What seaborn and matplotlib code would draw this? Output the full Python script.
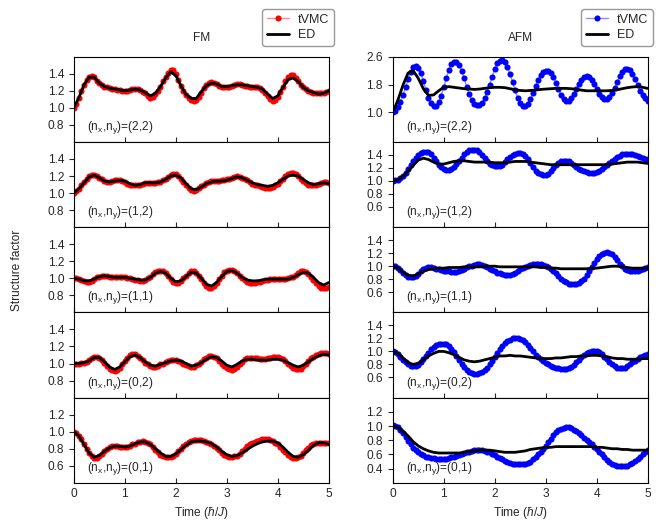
import numpy as np
import matplotlib
matplotlib.use("Agg")
import matplotlib.pyplot as plt
import seaborn as sns

# time grids: tVMC sampled every 0.05, ED every 0.1 (in units of hbar/J)
t_vmc = np.round(np.arange(101) * 0.05, 2)
t_ed = np.round(np.arange(51) * 0.1, 2)

panel_labels = ["(2,2)", "(1,2)", "(1,1)", "(0,2)", "(0,1)"]

# ---------------- FM ----------------
fm22_tvmc = [1.00, 1.05, 1.12, 1.20, 1.27, 1.33, 1.36, 1.37, 1.36, 1.32,
             1.29, 1.27, 1.25, 1.24, 1.23, 1.22, 1.22, 1.21, 1.21, 1.20,
             1.20, 1.20, 1.21, 1.22, 1.22, 1.22, 1.21, 1.19, 1.17, 1.14,
             1.12, 1.13, 1.16, 1.20, 1.25, 1.31, 1.36, 1.41, 1.44, 1.44,
             1.40, 1.33, 1.26, 1.20, 1.15, 1.11, 1.09, 1.08, 1.09, 1.13,
             1.18, 1.23, 1.27, 1.29, 1.30, 1.29, 1.28, 1.26, 1.25, 1.24,
             1.24, 1.25, 1.26, 1.27, 1.28, 1.28, 1.27, 1.26, 1.26, 1.25,
             1.25, 1.24, 1.24, 1.23, 1.21, 1.18, 1.14, 1.10, 1.08, 1.09,
             1.13, 1.19, 1.25, 1.31, 1.36, 1.38, 1.38, 1.35, 1.31, 1.27,
             1.24, 1.22, 1.20, 1.19, 1.18, 1.18, 1.18, 1.18, 1.18, 1.19,
             1.20]
fm22_ed = [1.00, 1.12, 1.27, 1.36, 1.36, 1.29, 1.25, 1.23, 1.22, 1.21,
           1.20, 1.21, 1.22, 1.21, 1.18, 1.14, 1.17, 1.25, 1.35, 1.42,
           1.38, 1.26, 1.16, 1.11, 1.11, 1.19, 1.26, 1.29, 1.28, 1.25,
           1.25, 1.26, 1.27, 1.27, 1.26, 1.25, 1.24, 1.22, 1.16, 1.11,
           1.14, 1.24, 1.33, 1.35, 1.31, 1.24, 1.20, 1.18, 1.16, 1.17,
           1.20]

fm12_tvmc = [1.00, 1.02, 1.05, 1.09, 1.13, 1.17, 1.20, 1.21, 1.21, 1.20,
             1.18, 1.16, 1.14, 1.13, 1.13, 1.14, 1.15, 1.15, 1.15, 1.14,
             1.13, 1.11, 1.10, 1.09, 1.09, 1.09, 1.10, 1.11, 1.12, 1.12,
             1.12, 1.12, 1.12, 1.13, 1.13, 1.15, 1.17, 1.19, 1.21, 1.22,
             1.22, 1.20, 1.17, 1.13, 1.09, 1.06, 1.04, 1.03, 1.04, 1.06,
             1.08, 1.10, 1.12, 1.13, 1.14, 1.14, 1.14, 1.14, 1.15, 1.15,
             1.16, 1.17, 1.18, 1.19, 1.20, 1.19, 1.18, 1.16, 1.15, 1.13,
             1.11, 1.10, 1.09, 1.08, 1.07, 1.06, 1.06, 1.06, 1.07, 1.09,
             1.11, 1.14, 1.17, 1.20, 1.22, 1.23, 1.23, 1.22, 1.20, 1.17,
             1.14, 1.12, 1.10, 1.09, 1.09, 1.10, 1.11, 1.12, 1.13, 1.13,
             1.12]
fm12_ed = [1.00, 1.05, 1.12, 1.19, 1.21, 1.18, 1.14, 1.13, 1.14, 1.15,
           1.14, 1.11, 1.09, 1.10, 1.12, 1.12, 1.12, 1.13, 1.16, 1.20,
           1.21, 1.18, 1.11, 1.05, 1.04, 1.07, 1.11, 1.13, 1.14, 1.14,
           1.15, 1.17, 1.19, 1.18, 1.15, 1.12, 1.10, 1.09, 1.08, 1.09,
           1.12, 1.16, 1.20, 1.21, 1.20, 1.16, 1.12, 1.10, 1.11, 1.12,
           1.11]

fm11_tvmc = [1.00, 1.00, 0.99, 0.98, 0.97, 0.96, 0.96, 0.97, 0.99, 1.01,
             1.02, 1.03, 1.03, 1.03, 1.02, 1.02, 1.01, 1.01, 1.01, 1.01,
             1.01, 1.00, 1.00, 0.99, 0.98, 0.98, 0.97, 0.97, 0.98, 1.00,
             1.02, 1.05, 1.07, 1.09, 1.09, 1.08, 1.06, 1.03, 0.99, 0.96,
             0.95, 0.95, 0.97, 1.00, 1.03, 1.06, 1.08, 1.08, 1.06, 1.03,
             0.99, 0.95, 0.91, 0.89, 0.89, 0.91, 0.95, 0.99, 1.03, 1.07,
             1.09, 1.10, 1.10, 1.08, 1.06, 1.03, 1.00, 0.98, 0.96, 0.95,
             0.95, 0.95, 0.96, 0.96, 0.97, 0.98, 0.98, 0.99, 0.99, 0.99,
             0.99, 0.99, 0.99, 0.99, 1.00, 1.01, 1.02, 1.04, 1.06, 1.08,
             1.08, 1.07, 1.05, 1.02, 0.98, 0.94, 0.91, 0.89, 0.89, 0.89,
             0.90]
fm11_ed = [1.00, 0.99, 0.97, 0.97, 0.99, 1.02, 1.03, 1.02, 1.01, 1.01,
           1.01, 1.00, 0.99, 0.98, 0.98, 1.01, 1.06, 1.08, 1.06, 1.00,
           0.96, 0.97, 1.02, 1.07, 1.06, 1.00, 0.93, 0.91, 0.95, 1.02,
           1.08, 1.09, 1.06, 1.01, 0.98, 0.97, 0.97, 0.98, 0.99, 0.99,
           0.99, 0.99, 0.99, 1.01, 1.04, 1.07, 1.06, 1.01, 0.95, 0.92,
           0.95]

fm02_tvmc = [1.00, 1.00, 1.00, 1.01, 1.01, 1.02, 1.04, 1.06, 1.08, 1.08,
             1.07, 1.04, 1.01, 0.97, 0.94, 0.92, 0.91, 0.92, 0.95, 0.99,
             1.03, 1.07, 1.10, 1.11, 1.11, 1.09, 1.07, 1.04, 1.01, 0.99,
             0.97, 0.96, 0.96, 0.97, 0.99, 1.00, 1.02, 1.03, 1.04, 1.04,
             1.04, 1.03, 1.02, 1.00, 0.98, 0.97, 0.96, 0.96, 0.98, 1.00,
             1.02, 1.05, 1.07, 1.09, 1.09, 1.08, 1.06, 1.03, 1.00, 0.97,
             0.95, 0.93, 0.92, 0.93, 0.96, 0.99, 1.02, 1.05, 1.06, 1.07,
             1.07, 1.07, 1.06, 1.05, 1.05, 1.05, 1.06, 1.07, 1.08, 1.08,
             1.08, 1.07, 1.05, 1.03, 1.00, 0.97, 0.95, 0.93, 0.93, 0.94,
             0.97, 1.00, 1.03, 1.06, 1.08, 1.10, 1.11, 1.12, 1.12, 1.12,
             1.11]
fm02_ed = [1.00, 1.00, 1.01, 1.03, 1.07, 1.07, 1.02, 0.96, 0.93, 0.96,
           1.02, 1.08, 1.10, 1.07, 1.02, 0.98, 0.97, 0.99, 1.01, 1.03,
           1.04, 1.03, 1.00, 0.97, 0.98, 1.01, 1.05, 1.08, 1.07, 1.03,
           0.98, 0.96, 0.99, 1.03, 1.05, 1.05, 1.04, 1.04, 1.04, 1.05,
           1.05, 1.04, 1.01, 0.98, 0.96, 0.98, 1.02, 1.06, 1.09, 1.11,
           1.10]

fm01_tvmc = [1.00, 0.98, 0.95, 0.91, 0.85, 0.80, 0.75, 0.71, 0.69, 0.69,
             0.71, 0.74, 0.77, 0.80, 0.82, 0.83, 0.83, 0.83, 0.82, 0.82,
             0.82, 0.82, 0.83, 0.85, 0.86, 0.88, 0.88, 0.89, 0.88, 0.87,
             0.85, 0.82, 0.79, 0.76, 0.73, 0.71, 0.70, 0.70, 0.70, 0.72,
             0.74, 0.77, 0.80, 0.83, 0.86, 0.88, 0.89, 0.90, 0.90, 0.90,
             0.90, 0.89, 0.88, 0.87, 0.85, 0.83, 0.81, 0.78, 0.75, 0.73,
             0.71, 0.70, 0.70, 0.71, 0.72, 0.74, 0.77, 0.80, 0.83, 0.85,
             0.87, 0.88, 0.89, 0.90, 0.91, 0.91, 0.91, 0.90, 0.89, 0.87,
             0.85, 0.82, 0.79, 0.76, 0.73, 0.70, 0.69, 0.69, 0.70, 0.72,
             0.75, 0.78, 0.81, 0.84, 0.86, 0.87, 0.87, 0.87, 0.87, 0.87,
             0.87]
fm01_ed = [1.00, 0.95, 0.85, 0.75, 0.70, 0.72, 0.77, 0.81, 0.83, 0.83,
           0.82, 0.83, 0.86, 0.88, 0.88, 0.85, 0.80, 0.75, 0.71, 0.71,
           0.74, 0.79, 0.84, 0.88, 0.89, 0.89, 0.88, 0.86, 0.82, 0.77,
           0.73, 0.71, 0.72, 0.75, 0.79, 0.83, 0.86, 0.88, 0.89, 0.89,
           0.87, 0.82, 0.76, 0.71, 0.70, 0.73, 0.78, 0.84, 0.87, 0.87,
           0.85]

# ---------------- AFM ----------------
afm22_tvmc = [1.00, 1.04, 1.14, 1.30, 1.50, 1.72, 1.95, 2.15, 2.30, 2.34,
              2.28, 2.12, 1.90, 1.65, 1.42, 1.26, 1.18, 1.19, 1.30, 1.48,
              1.72, 1.98, 2.22, 2.39, 2.46, 2.45, 2.36, 2.20, 1.98, 1.74,
              1.52, 1.35, 1.25, 1.21, 1.21, 1.27, 1.40, 1.58, 1.80, 2.03,
              2.25, 2.41, 2.49, 2.50, 2.44, 2.30, 2.10, 1.87, 1.63, 1.42,
              1.27, 1.19, 1.18, 1.24, 1.37, 1.55, 1.75, 1.94, 2.08, 2.17,
              2.20, 2.20, 2.14, 2.02, 1.85, 1.67, 1.50, 1.39, 1.33, 1.34,
              1.40, 1.52, 1.66, 1.81, 1.93, 2.01, 2.04, 2.02, 1.94, 1.82,
              1.68, 1.54, 1.43, 1.37, 1.37, 1.43, 1.55, 1.70, 1.87, 2.04,
              2.17, 2.25, 2.26, 2.21, 2.10, 1.95, 1.78, 1.62, 1.49, 1.40,
              1.32]
afm22_ed = [1.00, 1.35, 1.78, 2.13, 2.20, 1.98, 1.68, 1.49, 1.50, 1.62,
            1.72, 1.74, 1.72, 1.70, 1.68, 1.67, 1.66, 1.67, 1.69, 1.71,
            1.72, 1.72, 1.71, 1.68, 1.65, 1.63, 1.62, 1.63, 1.64, 1.66,
            1.67, 1.68, 1.69, 1.69, 1.69, 1.68, 1.66, 1.64, 1.62, 1.62,
            1.62, 1.62, 1.62, 1.63, 1.65, 1.68, 1.71, 1.73, 1.74, 1.72,
            1.69]

afm12_tvmc = [1.00, 1.01, 1.02, 1.05, 1.08, 1.13, 1.19, 1.25, 1.31, 1.36,
              1.40, 1.43, 1.45, 1.45, 1.44, 1.41, 1.36, 1.30, 1.25, 1.21,
              1.18, 1.17, 1.17, 1.18, 1.21, 1.26, 1.31, 1.36, 1.41, 1.45,
              1.47, 1.48, 1.48, 1.47, 1.44, 1.40, 1.35, 1.30, 1.26, 1.24,
              1.23, 1.23, 1.23, 1.25, 1.29, 1.33, 1.37, 1.40, 1.42, 1.43,
              1.43, 1.42, 1.39, 1.34, 1.28, 1.22, 1.16, 1.12, 1.10, 1.09,
              1.09, 1.11, 1.15, 1.20, 1.25, 1.28, 1.30, 1.31, 1.31, 1.30,
              1.28, 1.25, 1.22, 1.19, 1.17, 1.15, 1.14, 1.13, 1.13, 1.13,
              1.14, 1.16, 1.19, 1.22, 1.25, 1.28, 1.31, 1.34, 1.37, 1.39,
              1.41, 1.42, 1.42, 1.42, 1.41, 1.40, 1.39, 1.37, 1.35, 1.34,
              1.33]
afm12_ed = [1.00, 1.02, 1.07, 1.15, 1.24, 1.32, 1.35, 1.33, 1.29, 1.26,
            1.26, 1.28, 1.30, 1.31, 1.31, 1.30, 1.29, 1.29, 1.29, 1.29,
            1.28, 1.28, 1.28, 1.29, 1.30, 1.30, 1.30, 1.29, 1.28, 1.27,
            1.26, 1.25, 1.25, 1.25, 1.25, 1.25, 1.25, 1.25, 1.25, 1.25,
            1.25, 1.25, 1.25, 1.26, 1.27, 1.28, 1.29, 1.29, 1.29, 1.28,
            1.27]

afm11_tvmc = [1.01, 1.00, 0.97, 0.94, 0.90, 0.86, 0.84, 0.83, 0.83, 0.85,
              0.88, 0.92, 0.95, 0.97, 0.98, 0.98, 0.97, 0.96, 0.95, 0.94,
              0.93, 0.92, 0.92, 0.91, 0.91, 0.91, 0.92, 0.94, 0.96, 0.98,
              1.00, 1.01, 1.02, 1.03, 1.03, 1.02, 1.00, 0.98, 0.96, 0.94,
              0.92, 0.90, 0.89, 0.88, 0.87, 0.87, 0.87, 0.88, 0.90, 0.92,
              0.95, 0.97, 0.99, 1.01, 1.02, 1.03, 1.03, 1.03, 1.03, 1.02,
              1.01, 0.99, 0.96, 0.93, 0.89, 0.85, 0.81, 0.78, 0.75, 0.73,
              0.72, 0.72, 0.72, 0.74, 0.77, 0.81, 0.87, 0.93, 0.99, 1.05,
              1.11, 1.16, 1.19, 1.21, 1.22, 1.21, 1.18, 1.14, 1.09, 1.04,
              1.00, 0.96, 0.94, 0.92, 0.92, 0.92, 0.93, 0.94, 0.95, 0.97,
              0.98]
afm11_ed = [1.00, 0.97, 0.91, 0.86, 0.85, 0.88, 0.92, 0.95, 0.96, 0.97,
            0.97, 0.98, 0.98, 0.98, 0.99, 0.99, 0.99, 0.99, 1.00, 1.00,
            1.00, 0.99, 0.99, 0.99, 0.99, 0.99, 0.99, 0.99, 0.99, 0.98,
            0.98, 0.97, 0.97, 0.96, 0.96, 0.96, 0.96, 0.96, 0.96, 0.97,
            0.97, 0.98, 0.99, 1.00, 1.00, 0.99, 0.98, 0.97, 0.97, 0.97,
            0.97]

afm02_tvmc = [1.01, 0.99, 0.96, 0.92, 0.87, 0.83, 0.80, 0.78, 0.77, 0.77,
              0.79, 0.83, 0.88, 0.93, 0.98, 1.03, 1.07, 1.10, 1.12, 1.12,
              1.12, 1.11, 1.08, 1.04, 0.99, 0.93, 0.87, 0.81, 0.76, 0.72,
              0.69, 0.67, 0.66, 0.66, 0.67, 0.68, 0.71, 0.75, 0.80, 0.86,
              0.92, 0.98, 1.04, 1.09, 1.13, 1.16, 1.18, 1.20, 1.20, 1.20,
              1.19, 1.17, 1.14, 1.10, 1.05, 1.00, 0.95, 0.91, 0.88, 0.85,
              0.82, 0.80, 0.78, 0.76, 0.75, 0.74, 0.73, 0.73, 0.73, 0.74,
              0.76, 0.79, 0.83, 0.87, 0.91, 0.94, 0.97, 0.99, 1.00, 1.00,
              1.00, 0.99, 0.96, 0.92, 0.88, 0.84, 0.80, 0.77, 0.75, 0.74,
              0.74, 0.75, 0.77, 0.80, 0.83, 0.86, 0.88, 0.91, 0.93, 0.95,
              0.96]
afm02_ed = [1.00, 0.97, 0.90, 0.83, 0.80, 0.82, 0.87, 0.93, 0.97, 1.00,
            1.00, 0.98, 0.95, 0.91, 0.87, 0.85, 0.84, 0.85, 0.87, 0.89,
            0.91, 0.93, 0.93, 0.94, 0.93, 0.93, 0.92, 0.91, 0.90, 0.89,
            0.89, 0.89, 0.90, 0.90, 0.91, 0.92, 0.92, 0.93, 0.93, 0.94,
            0.94, 0.93, 0.92, 0.90, 0.89, 0.89, 0.88, 0.88, 0.88, 0.89,
            0.89]

afm01_tvmc = [1.01, 1.00, 0.98, 0.95, 0.90, 0.85, 0.79, 0.74, 0.69, 0.66,
              0.63, 0.61, 0.59, 0.57, 0.56, 0.55, 0.55, 0.54, 0.54, 0.54,
              0.54, 0.54, 0.55, 0.56, 0.57, 0.58, 0.59, 0.61, 0.62, 0.63,
              0.64, 0.65, 0.66, 0.66, 0.66, 0.66, 0.65, 0.64, 0.63, 0.61,
              0.59, 0.57, 0.55, 0.53, 0.51, 0.49, 0.48, 0.47, 0.46, 0.46,
              0.46, 0.46, 0.47, 0.48, 0.50, 0.53, 0.56, 0.60, 0.64, 0.68,
              0.72, 0.77, 0.82, 0.87, 0.91, 0.94, 0.96, 0.97, 0.98, 0.98,
              0.97, 0.95, 0.93, 0.90, 0.87, 0.83, 0.80, 0.77, 0.74, 0.71,
              0.68, 0.64, 0.60, 0.56, 0.52, 0.49, 0.47, 0.45, 0.44, 0.43,
              0.43, 0.43, 0.44, 0.46, 0.48, 0.51, 0.54, 0.57, 0.60, 0.63,
              0.66]
afm01_ed = [1.00, 0.98, 0.93, 0.86, 0.78, 0.72, 0.68, 0.65, 0.63, 0.62,
            0.62, 0.62, 0.62, 0.62, 0.63, 0.64, 0.65, 0.66, 0.66, 0.66,
            0.65, 0.64, 0.63, 0.63, 0.63, 0.64, 0.65, 0.67, 0.68, 0.69,
            0.70, 0.70, 0.71, 0.71, 0.71, 0.71, 0.71, 0.71, 0.71, 0.71,
            0.70, 0.70, 0.69, 0.68, 0.68, 0.67, 0.67, 0.66, 0.66, 0.66,
            0.66]

fm_tvmc = [fm22_tvmc, fm12_tvmc, fm11_tvmc, fm02_tvmc, fm01_tvmc]
fm_ed = [fm22_ed, fm12_ed, fm11_ed, fm02_ed, fm01_ed]
afm_tvmc = [afm22_tvmc, afm12_tvmc, afm11_tvmc, afm02_tvmc, afm01_tvmc]
afm_ed = [afm22_ed, afm12_ed, afm11_ed, afm02_ed, afm01_ed]

# axis ranges / ticks per panel
fm_ylims = [(0.6, 1.6)] * 4 + [(0.4, 1.4)]
fm_yticks = [[0.8, 1.0, 1.2, 1.4]] * 4 + [[0.6, 0.8, 1.0, 1.2]]
afm_ylims = [(0.15, 2.6)] + [(0.29, 1.6)] * 3 + [(0.2, 1.4)]
afm_yticks = [[1.0, 1.8, 2.6]] + [[0.6, 0.8, 1.0, 1.2, 1.4]] * 3 + [[0.4, 0.6, 0.8, 1.0, 1.2]]

# --- style ---
sns.set_style("ticks")
plt.rcParams["font.family"] = ["Liberation Sans", "DejaVu Sans"]
plt.rcParams["mathtext.fontset"] = "custom"
plt.rcParams["mathtext.rm"] = "Liberation Sans"
plt.rcParams["mathtext.it"] = "Liberation Sans:italic"
plt.rcParams["mathtext.default"] = "regular"
plt.rcParams["axes.edgecolor"] = "black"
plt.rcParams["axes.linewidth"] = 0.8

fs = 8.6

fig, axes = plt.subplots(5, 2, figsize=(6.65, 5.3), dpi=100, sharex=True)
fig.subplots_adjust(left=0.111, right=0.974, top=0.893, bottom=0.089,
                    hspace=0, wspace=0.251)

columns = [
    ("FM", "red", (1.0, 0.0, 0.0, 0.45), fm_tvmc, fm_ed, fm_ylims, fm_yticks),
    ("AFM", "blue", (0.0, 0.0, 1.0, 0.45), afm_tvmc, afm_ed, afm_ylims, afm_yticks),
]

for c, (title, col, col_line, vmc_set, ed_set, ylims, yticks) in enumerate(columns):
    for r in range(5):
        ax = axes[r, c]
        sns.lineplot(x=t_vmc, y=vmc_set[r], ax=ax, color=col_line, linewidth=1.0,
                     marker="o", markersize=4.4, markerfacecolor=col,
                     markeredgecolor=col, markeredgewidth=0, label="tVMC", legend=False)
        sns.lineplot(x=t_ed, y=ed_set[r], ax=ax, color="black", linewidth=2.0,
                     label="ED", legend=False)
        ax.set_xlim(0, 5)
        ax.set_ylim(*ylims[r])
        ax.set_yticks(yticks[r])
        ax.set_xticks([0, 1, 2, 3, 4, 5])
        ax.tick_params(axis="x", direction="in", length=3.5, width=0.8, labelsize=fs)
        ax.tick_params(axis="y", direction="out", length=3.5, width=0.8, labelsize=fs)
        ax.text(0.05, 0.17, r"(n$_x$,n$_y$)=" + panel_labels[r], transform=ax.transAxes,
                fontsize=fs, va="center", ha="left")
        for s in ax.spines.values():
            s.set_visible(True)
            s.set_color("black")
    axes[0, c].set_title(title, fontsize=fs, pad=11)
    axes[0, c].legend(loc="lower right", bbox_to_anchor=(1.02, 1.13), borderaxespad=0,
                      fontsize=9, frameon=True, fancybox=True, edgecolor="0.6",
                      framealpha=1, handlelength=1.8, handletextpad=0.7,
                      borderpad=0.35, labelspacing=0.3)
    axes[4, c].set_xlabel(r"Time ($\mathit{\hbar}$/$\mathit{J}$)", fontsize=fs)

fig.text(0.026, 0.49, "Structure factor", rotation=90, va="center", ha="center", fontsize=fs)

fig.savefig("out.png", dpi=100)
